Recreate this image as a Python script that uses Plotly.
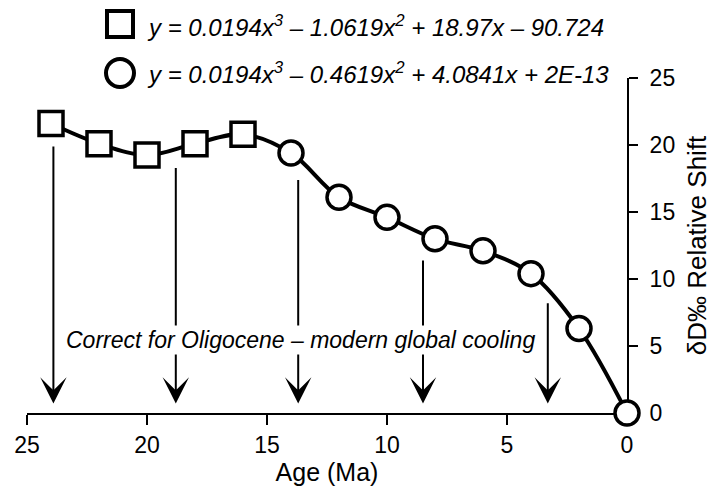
import plotly.graph_objects as go

# Data
sq_age = [24, 22, 20, 18, 16]
sq_shift = [21.6, 20.1, 19.25, 20.1, 20.8]
ci_age = [14, 12, 10, 8, 6, 4, 2, 0]
ci_shift = [19.4, 16.1, 14.6, 13.0, 12.1, 10.4, 6.3, 0.0]

arrow_x = [23.9, 18.8, 13.7, 8.5, 3.3]
arrow_top = [20.0, 18.4, 17.5, 11.5, 8.3]
arrow_tip = 0.7

x_ticks = [25, 20, 15, 10, 5, 0]
y_ticks = [0, 5, 10, 15, 20, 25]

eq_square = "<i>y = 0.0194x<sup>3</sup> – 1.0619x<sup>2</sup> + 18.97x – 90.724</i>"
eq_circle = "<i>y = 0.0194x<sup>3</sup> – 0.4619x<sup>2</sup> + 4.0841x + 2E-13</i>"
note_text = "<i>Correct for Oligocene – modern global cooling</i>"

FONT = "Liberation Sans, Arial, sans-serif"

fig = go.Figure()

fig.add_trace(go.Scatter(
    x=sq_age + ci_age, y=sq_shift + ci_shift, mode="lines",
    line=dict(color="black", width=4, shape="spline", smoothing=1.0),
    hoverinfo="skip", cliponaxis=False))

fig.add_trace(go.Scatter(
    x=sq_age, y=sq_shift, mode="markers",
    marker=dict(symbol="square", size=24, color="white",
                line=dict(color="black", width=3.5)),
    cliponaxis=False))

fig.add_trace(go.Scatter(
    x=ci_age, y=ci_shift, mode="markers",
    marker=dict(symbol="circle", size=24, color="white",
                line=dict(color="black", width=3.5)),
    cliponaxis=False))

annotations = []
for xa, yt in zip(arrow_x, arrow_top):
    annotations.append(dict(
        x=xa, y=arrow_tip, ax=xa, ay=yt, xref="x", yref="y",
        axref="x", ayref="y", text="", showarrow=True,
        arrowhead=3, arrowsize=2.2, arrowwidth=2, arrowcolor="black",
        standoff=0, startstandoff=0))

annotations.append(dict(
    x=13.6, y=5.45, xref="x", yref="y", text=note_text, showarrow=False,
    font=dict(family=FONT, size=23, color="black"),
    bgcolor="white", borderpad=1, xanchor="center", yanchor="middle"))

annotations.append(dict(
    x=0.197, y=1.155, xref="paper", yref="paper", text=eq_square,
    showarrow=False, xanchor="left", yanchor="middle",
    font=dict(family=FONT, size=24, color="black")))
annotations.append(dict(
    x=0.197, y=1.015, xref="paper", yref="paper", text=eq_circle,
    showarrow=False, xanchor="left", yanchor="middle",
    font=dict(family=FONT, size=24, color="black")))

shapes = [
    dict(type="rect", xref="paper", yref="paper",
         xsizemode="pixel", ysizemode="pixel",
         xanchor=0.155, yanchor=1.161, x0=-13, x1=13, y0=-13, y1=13,
         line=dict(color="black", width=4), fillcolor="white"),
    dict(type="circle", xref="paper", yref="paper",
         xsizemode="pixel", ysizemode="pixel",
         xanchor=0.155, yanchor=1.015, x0=-14, x1=14, y0=-14, y1=14,
         line=dict(color="black", width=4), fillcolor="white"),
]

fig.update_layout(
    width=713, height=493,
    margin=dict(l=27, r=86, t=78, b=80, autoexpand=False),
    paper_bgcolor="white", plot_bgcolor="white",
    showlegend=False,
    font=dict(family=FONT, size=23, color="black"),
    annotations=annotations, shapes=shapes,
    xaxis=dict(range=[25, 0], tickvals=x_ticks, ticks="outside",
               ticklen=10, tickwidth=2, tickcolor="black",
               showline=True, linewidth=2, linecolor="black",
               showgrid=False, zeroline=False, layer="below traces",
               automargin=False,
               tickfont=dict(size=23),
               title=dict(text="Age (Ma)", font=dict(size=25), standoff=0)),
    yaxis=dict(range=[0, 25], tickvals=y_ticks, side="right",
               ticks="outside", ticklen=9, tickwidth=2, tickcolor="black",
               ticklabelstandoff=7, automargin=False,
               showline=True, linewidth=2, linecolor="black",
               showgrid=False, zeroline=False, layer="below traces",
               tickfont=dict(size=23),
               title=dict(text="δD‰ Relative Shift", font=dict(size=26), standoff=14)),
)

fig.write_html("out.html")
